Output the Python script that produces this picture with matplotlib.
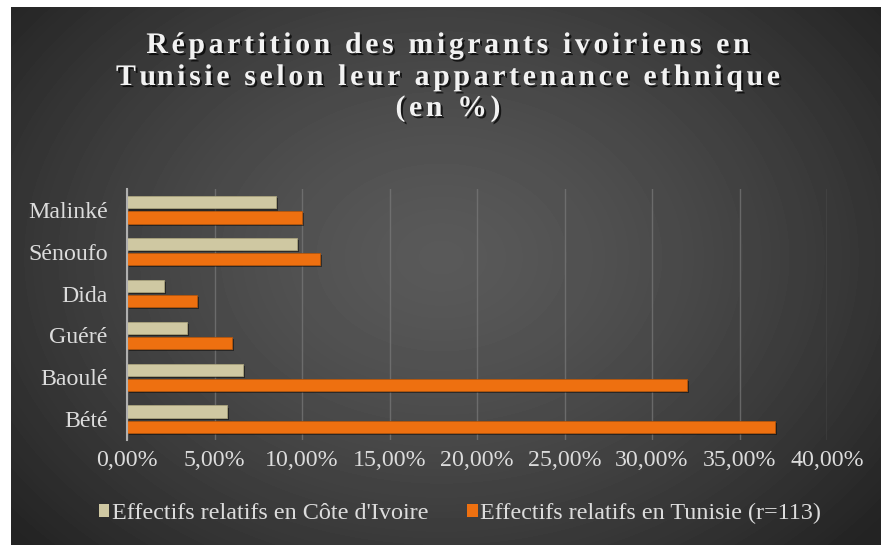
import numpy as np
import matplotlib
matplotlib.use("Agg")
import matplotlib.pyplot as plt
from matplotlib import patheffects as pe
from matplotlib.patches import Patch
from matplotlib.font_manager import FontProperties

# --- data (percent) ---
ethnies = ["Bété", "Baoulé", "Guéré", "Dida", "Sénoufo", "Malinké"]
cote_ivoire = [5.7, 6.6, 3.4, 2.1, 9.7, 8.5]
tunisie = [37.0, 32.0, 6.0, 4.0, 11.0, 10.0]
x_ticks = [0, 5, 10, 15, 20, 25, 30, 35, 40]
serie_labels = ["Effectifs relatifs en Côte d'Ivoire",
                "Effectifs relatifs en Tunisie (r=113)"]
title_lines = ["Répartition des migrants ivoiriens en",
               "Tunisie selon leur appartenance ethnique",
               "(en %)"]

BEIGE = "#cfc8a2"
ORANGE = "#ee7010"
TXT = "#dcdcdc"

plt.rcParams["font.family"] = ["Liberation Serif", "DejaVu Serif"]

W, H = 881, 545
fig = plt.figure(figsize=(W / 100, H / 100), dpi=100, facecolor="white")

# dark radial background panel
bg = fig.add_axes([11 / W, 0, (W - 11) / W, (H - 7) / H])
yy, xx = np.mgrid[0:538, 0:870]
r = np.hypot((xx - 430) / 560.0, (yy - 250) / 420.0)
r = np.clip(r, 0, 1)
shade = 0.35 - 0.21 * r ** 1.4
bg.imshow(shade, cmap="gray", vmin=0, vmax=1, aspect="auto",
          interpolation="bilinear")
bg.set_axis_off()

# plot area
ax = fig.add_axes([127 / W, 1 - 440 / H, 700 / W, 251 / H])
ax.set_facecolor("none")
y = np.arange(len(ethnies))
shadow = [pe.SimplePatchShadow(offset=(1.5, -1.5), shadow_rgbFace="black", alpha=0.45), pe.Normal()]
b1 = ax.barh(y + 0.18, cote_ivoire, height=0.29, color=BEIGE,
             edgecolor="#aaa37d", linewidth=0.6, zorder=3)
b2 = ax.barh(y - 0.18, tunisie, height=0.29, color=ORANGE,
             edgecolor="#b4560c", linewidth=0.6, zorder=3)
for bar in list(b1) + list(b2):
    bar.set_path_effects(shadow)

ax.set_xlim(0, 40)
ax.set_ylim(-0.5, len(ethnies) - 0.5)
ax.set_xticks(x_ticks)
ax.set_xticklabels([f"{v:.2f}%".replace(".", ",") for v in x_ticks])
ax.set_yticks(y)
ax.set_yticklabels(ethnies)
ax.tick_params(axis="x", length=0, pad=7, labelsize=17.2, labelcolor=TXT)
ax.tick_params(axis="y", length=0, pad=14, labelsize=17.2, labelcolor=TXT)
ax.grid(axis="x", color="#7a7a7a", linewidth=1, alpha=0.7, zorder=0)
for s in ["top", "right", "bottom"]:
    ax.spines[s].set_visible(False)
ax.spines["left"].set_color("#b0b0b0")
ax.spines["left"].set_linewidth(1.5)
ax.spines["left"].set_zorder(4)

# title with letter spacing, drawn char by char
tprop = FontProperties(family="Liberation Serif", weight="bold", size=21.5)
rend = fig.canvas.get_renderer()


def width_px(s):
    return rend.get_text_width_height_descent(s, tprop, ismath=False)[0]


spacing = 3.6
base_y = [53, 85, 116]
bar_w = width_px("||")
title_fx = [pe.withSimplePatchShadow(offset=(1.5, -1.5), shadow_rgbFace="black", alpha=0.7)]
for line, by in zip(title_lines, base_y):
    pos = [width_px("|" + line[:i] + "|") - bar_w for i in range(len(line))]
    total = width_px("|" + line + "|") - bar_w + spacing * (len(line) - 1)
    x0 = 448 - total / 2
    for i, ch in enumerate(line):
        if ch == " ":
            continue
        px = x0 + pos[i] + i * spacing
        fig.text(px / W, 1 - by / H, ch, fontproperties=tprop, color="#f2f2f2",
                 ha="left", va="baseline", path_effects=title_fx)

# legend
handles = [Patch(facecolor=BEIGE), Patch(facecolor=ORANGE)]
leg = fig.legend(handles, serie_labels, loc="center", bbox_to_anchor=(0.522, 0.058),
                 ncol=2, frameon=False, handlelength=0.45, handleheight=0.45,
                 handletextpad=0.1, columnspacing=1.6,
                 prop=FontProperties(family="Liberation Serif", size=17.4))
for t in leg.get_texts():
    t.set_color(TXT)

fig.savefig("out.png", dpi=100)
